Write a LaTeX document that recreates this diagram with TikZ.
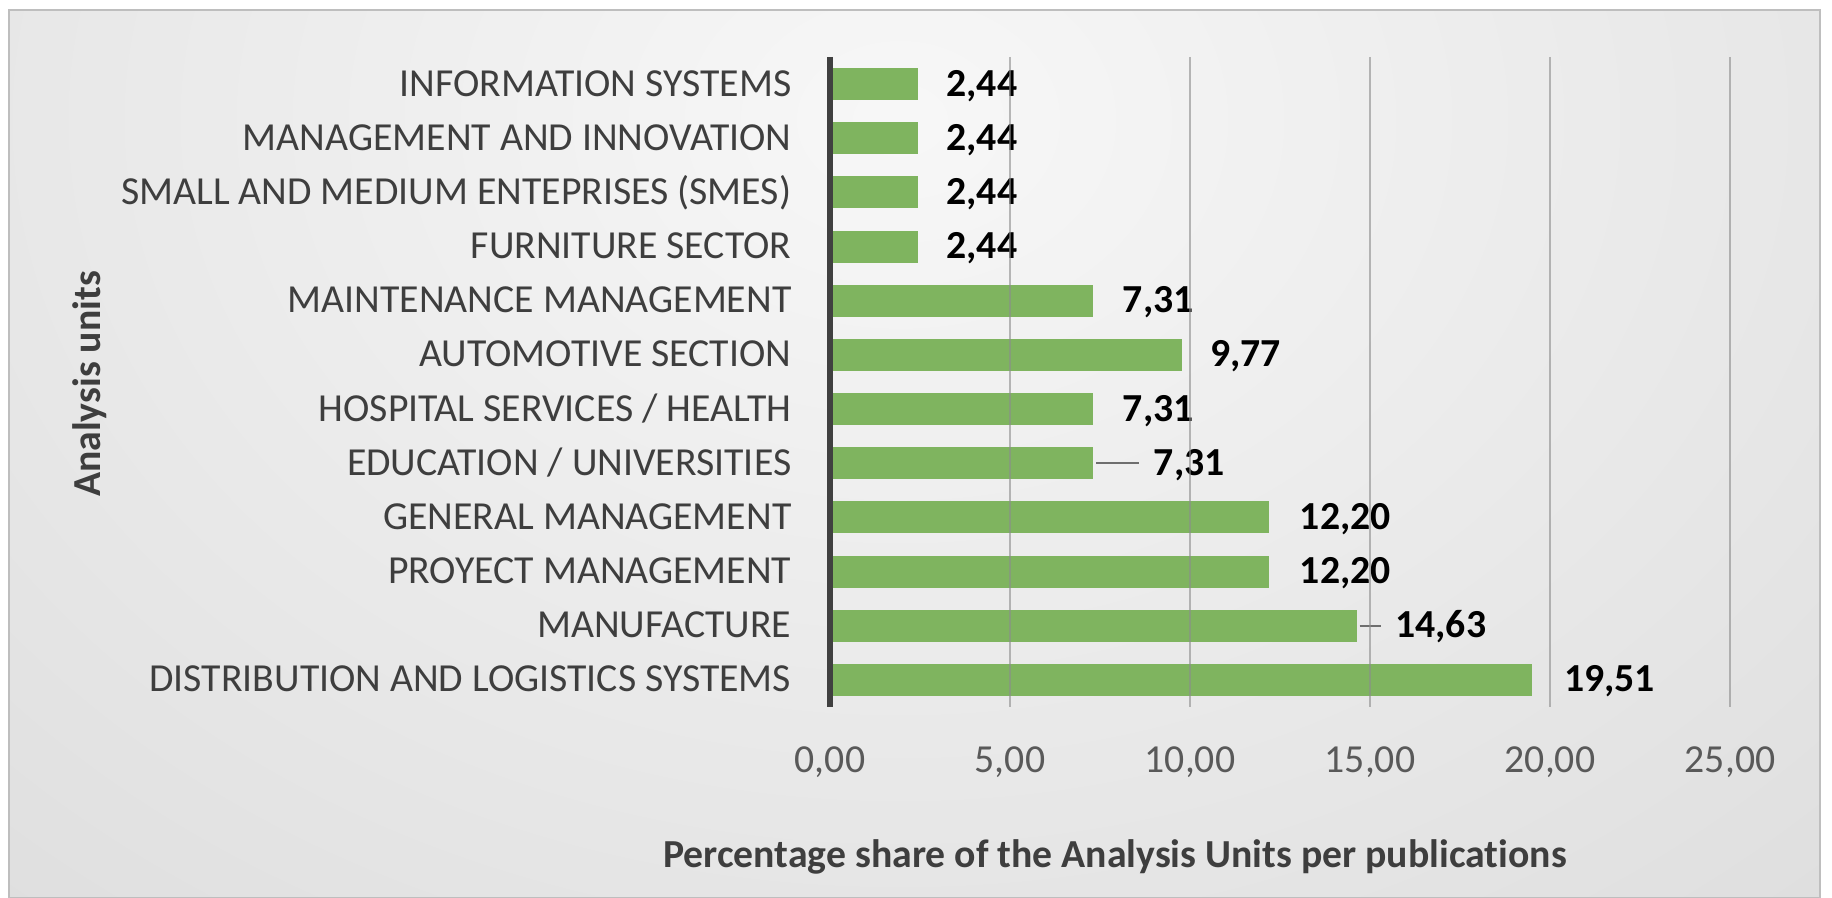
\documentclass[tikz,border=0pt]{standalone}
\usepackage{fontspec}
\setmainfont{Carlito}[Ligatures=CommonOff]
\usepackage{tikz}
\usetikzlibrary{positioning, calc}
\definecolor{bargreen}{RGB}{127,180,95}
\definecolor{axisgray}{RGB}{64,64,64}
\definecolor{gridgray}{RGB}{140,140,140}
\definecolor{labelgray}{RGB}{62,62,62}
\definecolor{tickgray}{RGB}{89,89,89}
\definecolor{leadergray}{RGB}{110,110,110}
\definecolor{framegray}{RGB}{190,190,190}
\pgfdeclareradialshading{chartglow}{\pgfpoint{0bp}{0bp}}{color(0bp)=(white!97!black); color(50bp)=(black!24)}
\newcommand{\pct}[1]{\pgfmathprintnumber[fixed, fixed zerofill, precision=2, use comma, assume math mode=true]{#1}}

\begin{document}
\begin{tikzpicture}[
    x=0.01cm, y=-0.01cm,
    catlabel/.style={font=\fontsize{11.3}{13}\selectfont, text=labelgray, anchor=base east, inner sep=0pt},
    vallabel/.style={font=\fontsize{11.3}{13}\selectfont\bfseries, anchor=base west, inner sep=0pt},
    ticklabel/.style={font=\fontsize{11.3}{13}\selectfont, text=tickgray, anchor=base, inner sep=0pt},
    axistitle/.style={font=\fontsize{11.3}{13}\selectfont\bfseries, text=labelgray, inner sep=0pt},
    bar/.style={fill=bargreen},
    grid/.style={draw=gridgray, draw opacity=0.6, line width=0.5pt},
    leader/.style={draw=leadergray, line width=0.5pt, shorten <=0.03cm, shorten >=0.14cm}
]
    \useasboundingbox (0,0) rectangle (1832,898);

    % chart area with soft background
    \begin{scope}
        \clip (9,10) rectangle (1820,898);
        \fill[black!21] (9,10) rectangle (1820,898);
        \shade[shading=chartglow] (900,120) ellipse [x radius=1500, y radius=1150];
    \end{scope}
    \draw[framegray, line width=0.6pt] (9,10) rectangle (1820,898);

    % bars, category labels and values
    \foreach \lab/\val/\gap/\lead [count=\i from 0] in {
        {INFORMATION SYSTEMS}/2.44/28/0,
        {MANAGEMENT AND INNOVATION}/2.44/28/0,
        {SMALL AND MEDIUM ENTEPRISES (SMES)}/2.44/28/0,
        {FURNITURE SECTOR}/2.44/28/0,
        {MAINTENANCE MANAGEMENT}/7.31/29/0,
        {AUTOMOTIVE SECTION}/9.77/28/0,
        {HOSPITAL SERVICES / HEALTH}/7.31/29/0,
        {EDUCATION / UNIVERSITIES}/7.31/60/1,
        {GENERAL MANAGEMENT}/12.20/30/0,
        {PROYECT MANAGEMENT}/12.20/30/0,
        {MANUFACTURE}/14.63/38/1,
        {DISTRIBUTION AND LOGISTICS SYSTEMS}/19.51/31/0}{
        \pgfmathsetmacro{\yc}{84.1+54.17*\i}
        \pgfmathsetmacro{\xe}{830+36*\val}
        \fill[bar] (830,\yc-16) rectangle (\xe,\yc+16);
        \coordinate (end\i) at (\xe,\yc);
        \node[catlabel] (cat\i) at (792,\yc+12) {\lab};
        \node[vallabel] (val\i) at (\xe+\gap,\yc+12) {\pct{\val}};
        \ifnum\lead=1
            \draw[leader] (end\i) -- (end\i -| val\i.west);
        \fi
    }

    % grid and value axis
    \foreach \v in {5,10,...,25}
        \draw[grid] ({830+36*\v},57) -- ({830+36*\v},707);
    \foreach \v in {0,5,...,25}
        \node[ticklabel] (tick\v) at ({830+36*\v},773) {\pct{\v}};
    \draw[axisgray, line width=1.8pt] (830,57) -- (830,707);

    % axis titles
    \node[axistitle] (xtitle) at (1115,857) {Percentage share of the Analysis Units per publications};
    \node[axistitle, rotate=90] (ytitle) at (90,384) {Analysis units};
\end{tikzpicture}
\end{document}
